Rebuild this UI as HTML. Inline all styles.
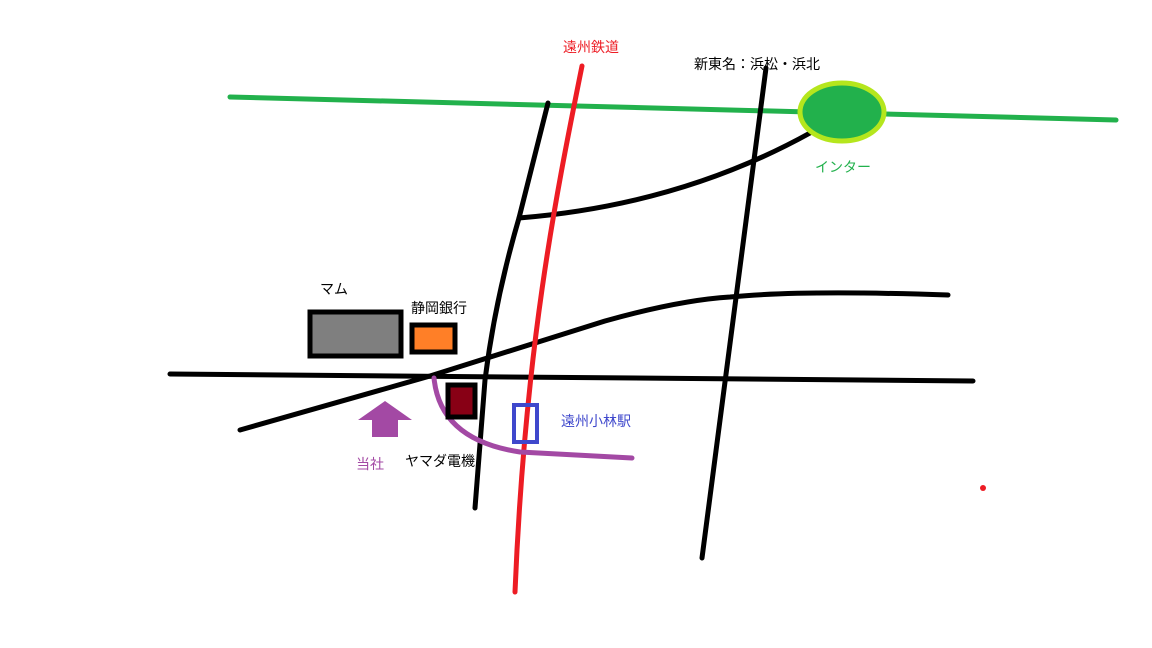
<!DOCTYPE html>
<html><head><meta charset="utf-8"><style>
html,body{margin:0;padding:0;background:#fff;}
svg{display:block}
text{font-family:"Liberation Sans","Noto Sans CJK JP",sans-serif;font-size:14px;}
</style></head><body>
<svg width="1152" height="648" viewBox="0 0 1152 648" xmlns="http://www.w3.org/2000/svg">
<g fill="none" stroke-linecap="round" stroke-linejoin="round">
<line x1="230" y1="97" x2="1116" y2="120" stroke="#22b14c" stroke-width="5"/>
<path d="M170,374 L973,381" stroke="#000" stroke-width="5"/>
<path d="M240,430 L430,376 L605,321 Q680,300 730,297 Q800,290 948,295" stroke="#000" stroke-width="5"/>
<path d="M548,103 L519,218 Q495,300 485,380 L475,508" stroke="#000" stroke-width="5"/>
<path d="M519,218 Q680,205 810,133" stroke="#000" stroke-width="5"/>
<line x1="766" y1="68" x2="702" y2="558" stroke="#000" stroke-width="5"/>
<path d="M582,66 C555,200 525,350 515,592" stroke="#ed1c24" stroke-width="5"/>
<path d="M434,378 Q440,440 520,452 L632,458" stroke="#a349a4" stroke-width="5"/>
</g>
<ellipse cx="842" cy="112" rx="42" ry="29" fill="#22b14c" stroke="#b5e61d" stroke-width="5"/>
<rect x="310" y="312" width="91" height="44" fill="#7f7f7f" stroke="#000" stroke-width="5"/>
<rect x="412" y="325" width="43" height="27" fill="#ff7f27" stroke="#000" stroke-width="5"/>
<rect x="448" y="385" width="27" height="32" fill="#880015" stroke="#000" stroke-width="5"/>
<rect x="514" y="405" width="23" height="37" fill="none" stroke="#3f48cc" stroke-width="4"/>
<polygon points="385,401 412,420 398,420 398,437 372,437 372,420 358,420" fill="#a349a4"/>
<circle cx="983" cy="488" r="3" fill="#ed1c24"/>
<text x="563" y="52" fill="#ed1c24">遠州鉄道</text>
<text x="694" y="69" fill="#000">新東名：浜松・浜北</text>
<text x="815" y="172" fill="#22b14c">インター</text>
<text x="320" y="294" fill="#000">マム</text>
<text x="411" y="313" fill="#000">静岡銀行</text>
<text x="561" y="426" fill="#3f48cc">遠州小林駅</text>
<text x="356" y="469" fill="#a349a4">当社</text>
<text x="405" y="466" fill="#000">ヤマダ電機</text>
</svg>
</body></html>
